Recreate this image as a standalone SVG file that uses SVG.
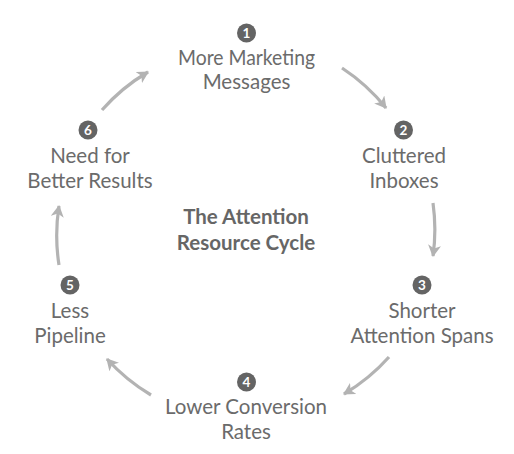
<svg xmlns="http://www.w3.org/2000/svg" width="514" height="454" viewBox="0 0 514 454">
<defs>
<style>
.lbl{font-family:Lato,"Open Sans","Liberation Sans",sans-serif;font-size:20.5px;fill:#6b6b6b;text-anchor:middle}
.ttl{font-family:Lato,"Open Sans","Liberation Sans",sans-serif;font-size:20.5px;font-weight:bold;fill:#666;text-anchor:middle}
.bc{fill:#646464}
.bn{font-family:Lato,"Open Sans","Liberation Sans",sans-serif;font-size:13.5px;font-weight:bold;fill:#fff;text-anchor:middle}
.arc{fill:none;stroke:#b3b3b3;stroke-width:3.2;marker-end:url(#ah)}
</style>
<marker id="ah" markerUnits="userSpaceOnUse" viewBox="0 0 12 12" refX="10" refY="6" markerWidth="13" markerHeight="13" orient="auto">
<path d="M0,0 L11,6 L0,12 L3,6 z" fill="#b3b3b3"/>
</marker>
</defs>
<rect width="514" height="454" fill="#fff"/>
<g id="connectors">
<path class="arc" d="M342,68 A190,190 0 0 1 386,108"/>
<path class="arc" d="M433,203 A190,190 0 0 1 433,256"/>
<path class="arc" d="M389,357 A190,190 0 0 1 344,394"/>
<path class="arc" d="M151,395 A190,190 0 0 1 107,359"/>
<path class="arc" d="M59,265 A190,190 0 0 1 59,206"/>
<path class="arc" d="M102,110 A190,190 0 0 1 148,72"/>
</g>
<g id="title"><text class="ttl" x="246" y="224">The Attention</text><text class="ttl" x="246" y="250">Resource Cycle</text></g>
<g id="node1"><circle class="bc" cx="246.5" cy="33" r="9.5"/><text class="bn" x="246.5" y="38">1</text><text class="lbl" x="246.5" y="65" textLength="137" lengthAdjust="spacingAndGlyphs">More Marketing</text><text class="lbl" x="246.5" y="89">Messages</text></g>
<g id="node2"><circle class="bc" cx="403.5" cy="130" r="9.5"/><text class="bn" x="403.5" y="135">2</text><text class="lbl" x="404" y="163">Cluttered</text><text class="lbl" x="404" y="188">Inboxes</text></g>
<g id="node3"><circle class="bc" cx="422" cy="285" r="9.5"/><text class="bn" x="422" y="290">3</text><text class="lbl" x="422" y="318">Shorter</text><text class="lbl" x="422" y="343">Attention Spans</text></g>
<g id="node4"><circle class="bc" cx="246.5" cy="382" r="9.5"/><text class="bn" x="246.5" y="387">4</text><text class="lbl" x="246" y="414">Lower Conversion</text><text class="lbl" x="246" y="439">Rates</text></g>
<g id="node5"><circle class="bc" cx="70" cy="285" r="9.5"/><text class="bn" x="70" y="290">5</text><text class="lbl" x="70" y="318">Less</text><text class="lbl" x="70" y="343">Pipeline</text></g>
<g id="node6"><circle class="bc" cx="88" cy="130" r="9.5"/><text class="bn" x="88" y="135">6</text><text class="lbl" x="90" y="163">Need for</text><text class="lbl" x="90" y="188">Better Results</text></g>
</svg>
